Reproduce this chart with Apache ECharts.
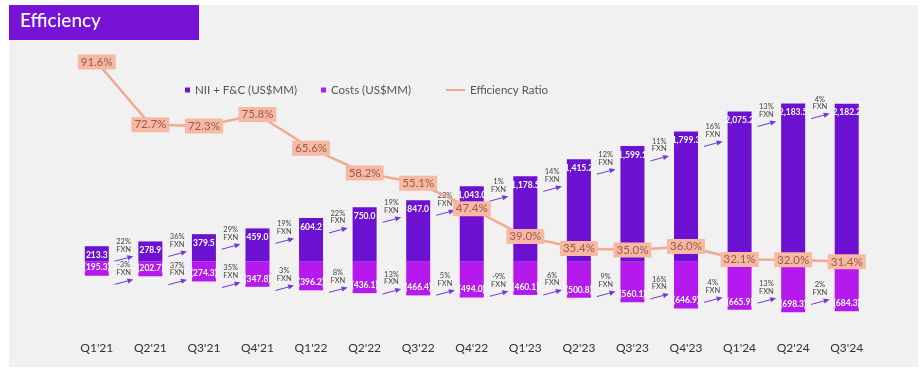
<!DOCTYPE html>
<html>
<head>
<meta charset="utf-8">
<script src="https://cdn.jsdelivr.net/npm/echarts@6/dist/echarts.min.js"></script>
<style>
html,body{margin:0;padding:0;background:#ffffff;}
#chart{width:922px;height:371px;}
</style>
</head>
<body>
<div id="chart"></div>
<script>
const categories = ["Q1'21","Q2'21","Q3'21","Q4'21","Q1'22","Q2'22","Q3'22","Q4'22","Q1'23","Q2'23","Q3'23","Q4'23","Q1'24","Q2'24","Q3'24"];
const niiFc = [213.3, 278.9, 379.5, 459.0, 604.2, 750.0, 847.0, 1043.0, 1178.5, 1415.2, 1599.1, 1799.3, 2075.2, 2183.5, 2182.2];
const costs = [195.3, 202.7, 274.3, 347.8, 396.2, 436.1, 466.4, 494.0, 460.1, 500.8, 560.1, 646.9, 665.9, 698.3, 684.3];
const efficiencyRatio = [91.6, 72.7, 72.3, 75.8, 65.6, 58.2, 55.1, 47.4, 39.0, 35.4, 35.0, 36.0, 32.1, 32.0, 31.4];
const niiFxnGrowth = ['22%','36%','29%','19%','22%','19%','22%','1%','14%','12%','11%','16%','13%','4%'];
const costsFxnGrowth = ['-3%','37%','35%','3%','8%','13%','5%','-9%','6%','9%','16%','4%','13%','2%'];

const FONT = 'Lato, "Noto Sans", sans-serif';
const C_NII = '#6c10d2';
const C_COST = '#b619ee';
const C_LINE = '#f2a88f';
const C_BOX = '#f7b9a4';
const C_ARROW = '#6e38d6';

const chart = echarts.init(document.getElementById('chart'), null, {renderer:'canvas'});

function fmtNii(v){
  return v.toLocaleString('en-US',{minimumFractionDigits:1, maximumFractionDigits:1});
}
function fmtCost(v){
  return '(' + Math.abs(v).toFixed(1) + ')';
}

function barLabelSeries(values, isCost){
  return {
    type:'custom', name: isCost ? 'costsLabels' : 'niiLabels',
    xAxisIndex:0, yAxisIndex:0, z:5, silent:true,
    data: values.map((v,i)=>[i, isCost ? -v : v]),
    encode:{x:0, y:1},
    renderItem: function(params, api){
      const i = params.dataIndex;
      const v = api.value(1);
      const p = api.coord([i, v]);
      const y = isCost ? p[1] - 8.5 : p[1] + 8.5;
      return {
        type:'text', x:p[0], y:y, scaleX:0.85, scaleY:1,
        style:{text: isCost ? fmtCost(v) : fmtNii(v), x:0, y:0, align:'center', verticalAlign:'middle',
          fontSize:10, fontWeight:'bold', fill:'#ffffff', fontFamily:FONT}
      };
    }
  };
}

function annotationSeries(values, texts, isCost){
  return {
    type:'custom',
    name: isCost ? 'costsFxn' : 'niiFxn',
    xAxisIndex:0, yAxisIndex:0,
    z:6, silent:true,
    data: texts.map((t,i)=>[i, isCost ? -values[i] : values[i]]),
    encode:{x:0, y:1},
    renderItem: function(params, api){
      const i = params.dataIndex;
      const v = api.value(1);
      const p0 = api.coord([i, v]);
      const p1 = api.coord([i+1, v]);
      const base = api.coord([i, 0])[1];
      const xm = (p0[0] + p1[0]) / 2;
      let ye;
      if (isCost) {
        ye = base + 0.55 * (p0[1] - base) + 10;
      } else {
        ye = p0[1] + 10;
      }
      const xe = xm + 9.8, xs = xm - 8.8, ys = ye + 5;
      const dx = xe - xs, dy = ye - ys;
      const L = Math.sqrt(dx*dx + dy*dy);
      const ux = dx / L, uy = dy / L;
      const nx = -uy, ny = ux;
      const hl = 6, hw = 2.6;
      const bx = xe - ux*hl, by = ye - uy*hl;
      const pct = texts[i];
      return {
        type:'group',
        children:[
          {type:'line', shape:{x1:xs, y1:ys, x2:bx, y2:by}, style:{stroke:C_ARROW, lineWidth:1}},
          {type:'polygon', shape:{points:[[xe,ye],[bx+nx*hw, by+ny*hw],[bx-nx*hw, by-ny*hw]]}, style:{fill:C_ARROW}},
          {type:'text', style:{text:pct, x:xm, y:ye-14.5, align:'center', verticalAlign:'middle', fontSize:7.5, fill:'#444', fontFamily:FONT}},
          {type:'text', style:{text:'FXN', x:xm, y:ye-7, align:'center', verticalAlign:'middle', fontSize:7.5, fill:'#444', fontFamily:FONT}}
        ]
      };
    }
  };
}

const option = {
  backgroundColor:'#ffffff',
  animation:false,
  textStyle:{fontFamily:FONT},
  graphic:[
    {type:'rect', left:9, top:5, shape:{width:909, height:362}, style:{fill:'#f1f1f1'}, z:-10},
    {type:'rect', left:9, top:5, shape:{width:190, height:35}, style:{fill:'#7713d6'}, z:-5},
    {type:'text', left:20, top:11, style:{text:'Efficiency', fill:'#ffffff', fontSize:19, fontWeight:500, fontFamily:FONT}, z:-4}
  ],
  legend:[
    {data:[{name:'NII + F&C (US$MM)', icon:'rect'}], left:180, top:79, itemWidth:5, itemHeight:5,
     textStyle:{fontSize:11.5, color:'#555', fontFamily:FONT}},
    {data:[{name:'Costs (US$MM)', icon:'rect'}], left:316, top:79, itemWidth:5, itemHeight:5,
     textStyle:{fontSize:11.5, color:'#555', fontFamily:FONT}},
    {data:[{name:'Efficiency Ratio', icon:'rect', itemStyle:{color:C_LINE}}], left:441, top:79, itemWidth:19, itemHeight:2,
     textStyle:{fontSize:11.5, color:'#555', fontFamily:FONT}}
  ],
  grid:{left:70, right:48.5, top:59, bottom:37, containLabel:false},
  xAxis:{
    type:'category', data:categories,
    axisLine:{show:false}, axisTick:{show:false},
    axisLabel:{margin:8, fontSize:12, color:'#333', fontFamily:FONT}
  },
  yAxis:[
    {type:'value', min:-1000, max:2800, show:false},
    {type:'value', min:9.67, max:92.5, show:false}
  ],
  series:[
    {
      name:'NII + F&C (US$MM)', type:'bar', data:niiFc, barWidth:24, barGap:'-100%',
      itemStyle:{color:C_NII}
    },
    {
      name:'Costs (US$MM)', type:'bar', data:costs.map(v=>-v), barWidth:24, barGap:'-100%',
      itemStyle:{color:C_COST}
    },
    barLabelSeries(niiFc, false),
    barLabelSeries(costs, true),
    annotationSeries(niiFc, niiFxnGrowth, false),
    annotationSeries(costs, costsFxnGrowth, true),
    {
      name:'Efficiency Ratio', type:'line', yAxisIndex:1, data:efficiencyRatio, z:8,
      symbol:'circle', symbolSize:1, showSymbol:true,
      lineStyle:{color:C_LINE, width:2.5},
      itemStyle:{color:C_LINE},
      label:{show:true, position:'inside', color:'#9a5a4a', fontSize:11.5, fontFamily:FONT,
        backgroundColor:C_BOX, padding:[2,3,1,3],
        formatter:p=>p.value.toFixed(1) + '%'}
    }
  ]
};
chart.setOption(option);
</script>
</body>
</html>
